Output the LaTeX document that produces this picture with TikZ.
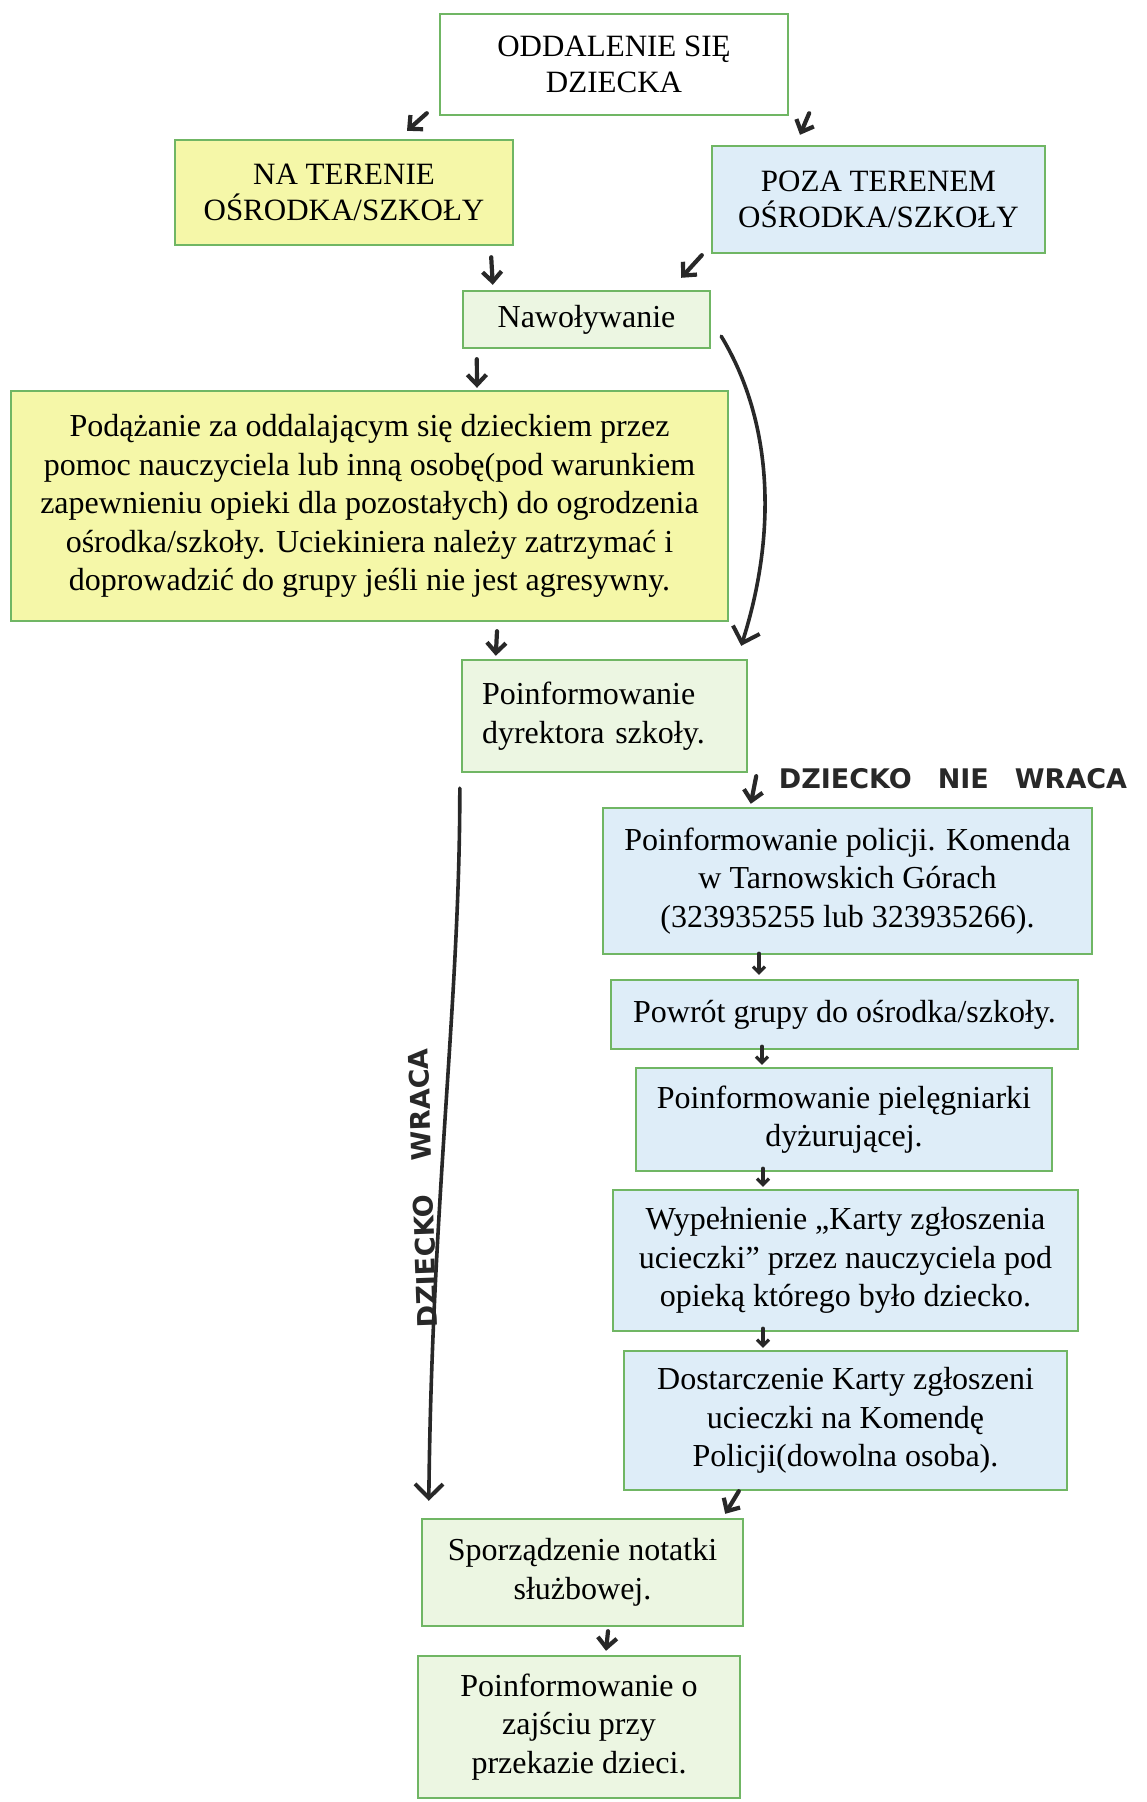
\documentclass[tikz,border=0pt]{standalone}
\usepackage{fontspec}
\setmainfont{Liberation Serif}
\newfontfamily\handfont{DejaVu Sans}
\usetikzlibrary{arrows.meta,calc}
\definecolor{bordergreen}{RGB}{112,182,100}
\definecolor{yfill}{RGB}{245,247,168}
\definecolor{bfill}{RGB}{222,237,248}
\definecolor{gfill}{RGB}{236,246,226}
\definecolor{ink}{RGB}{40,40,40}
\begin{document}
\begin{tikzpicture}[x=1pt,y=-1pt,
 box/.style={draw=bordergreen,line width=2.4pt,inner sep=0pt,align=center,font=\fontsize{32}{38.5}\selectfont},
 capsbox/.style={box,font=\fontsize{31}{36}\selectfont},
 hand/.style={draw=ink,line width=4.2pt,line cap=round,line join=round,-{Straight Barb[length=10pt,width=19pt]}},
 thinhand/.style={draw=ink,line width=3.2pt,line cap=round,line join=round,-{Straight Barb[length=6pt,width=12pt]}},
 longline/.style={draw=ink,line width=3.6pt,line cap=round,line join=round,-{Straight Barb[length=14pt,width=28pt,line width=4pt]}},
 note/.style={font=\handfont\bfseries\fontsize{27}{27}\selectfont,text=ink,inner sep=0pt}]
\useasboundingbox[fill=white] (0,0) rectangle (1146,1802);

\node[capsbox,fill=white,minimum width=348pt,minimum height=101pt] (top) at (614,64.5) {ODDALENIE SIĘ\\DZIECKA};
\node[capsbox,fill=yfill,minimum width=338pt,minimum height=105pt] (ter) at (344,192.5) {NA TERENIE\\OŚRODKA/SZKOŁY};
\node[capsbox,fill=bfill,minimum width=333pt,minimum height=107pt] (poza) at (878.5,199.5) {POZA TERENEM\\OŚRODKA/SZKOŁY};
\node[box,fill=gfill,minimum width=247pt,minimum height=57pt] (naw) at (586.5,319.5) {Nawoływanie};
\node[box,fill=yfill,minimum width=717pt,minimum height=230pt] (big) at (369.5,506) {Podążanie za oddalającym się dzieckiem przez\\pomoc nauczyciela lub inną osobę(pod warunkiem\\zapewnieniu opieki dla pozostałych) do ogrodzenia\\ośrodka/szkoły. Uciekiniera należy zatrzymać i\\doprowadzić do grupy jeśli nie jest agresywny.};
\node[box,fill=gfill,text width=245pt,align=left,inner xsep=20pt,minimum height=112pt] (dyr) at (604.5,716) {Poinformowanie\\dyrektora szkoły.};
\node[box,fill=bfill,minimum width=489pt,minimum height=146pt] (pol) at (847.5,881) {Poinformowanie policji. Komenda\\w Tarnowskich Górach\\(323935255 lub 323935266).};
\node[box,fill=bfill,minimum width=467pt,minimum height=69pt] (pow) at (844.5,1014.5) {Powrót grupy do ośrodka/szkoły.};
\node[box,fill=bfill,minimum width=416pt,minimum height=103pt] (piel) at (844,1119.5) {Poinformowanie pielęgniarki\\dyżurującej.};
\node[box,fill=bfill,minimum width=465pt,minimum height=141pt] (wyp) at (845.5,1260.5) {Wypełnienie „Karty zgłoszenia\\ucieczki” przez nauczyciela pod\\opieką którego było dziecko.};
\node[box,fill=bfill,minimum width=443pt,minimum height=139pt] (dost) at (845.5,1420.5) {Dostarczenie Karty zgłoszeni\\ucieczki na Komendę\\Policji(dowolna osoba).};
\node[box,fill=gfill,minimum width=321pt,minimum height=107pt] (spor) at (582.5,1572.5) {Sporządzenie notatki\\służbowej.};
\node[box,fill=gfill,minimum width=322pt,minimum height=142pt] (zaj) at (579,1727) {Poinformowanie o\\zajściu przy\\przekazie dzieci.};

% short hand-drawn arrows
\draw[hand] ($(top.south west)+(-12,-3)$) -- ($(ter.north)+(63,-8)$);
\draw[hand] ($(top.south east)+(20,-3)$) -- ($(poza.north)+(-78.5,-10)$);
\draw[hand] ($(ter.south east)+(-23,11)$) -- ($(naw.north west)+(31,-5)$);
\draw[hand] ($(poza.south west)+(-9,1)$) -- ($(naw.north east)+(-30,-12)$);
\draw[hand] ($(naw.south west)+(15,10)$) -- ($(big.north)+(107.5,-2)$);
\draw[longline] ($(naw.south east)+(10,-13)$) .. controls (772,420) and (778,530) .. ($(dyr.north east)+(-7,-13)$);
\draw[hand] ($(big.south)+(127.5,9)$) -- ($(dyr.north west)+(35,-3)$);
\draw[hand] ($(dyr.south east)+(8,3)$) -- ($(pol.north west)+(149,-3)$);
\draw[thinhand] ($(pol.south)+(-88.5,-2)$) -- ($(pow.north)+(-85.5,-4)$);
\draw[thinhand] ($(pow.south)+(-82.5,-4)$) -- ($(piel.north)+(-82,-2)$);
\draw[thinhand] ($(piel.south)+(-81,-4)$) -- ($(wyp.north)+(-82.5,-2)$);
\draw[thinhand] ($(wyp.south)+(-82.5,-4)$) -- ($(dost.north)+(-82.5,-2)$);
\draw[hand] ($(dost.south west)+(116,0)$) -- ($(spor.north east)+(-19,-4)$);
\draw[hand] ($(spor.south)+(25.5,4)$) -- ($(zaj.north)+(27,-4)$);
\draw[longline] ($(dyr.south west)+(-1,15)$) .. controls (460,1000) and (432,1200) .. ($(spor.north west)+(8,-17)$);

% handwritten labels
\node[note] (nie) at (953,779) {DZIECKO\hspace{26pt}NIE\hspace{26pt}WRACA};
\node[note,rotate=92] (wraca) at (423,1188) {DZIECKO\hspace{34pt}WRACA};
\end{tikzpicture}
\end{document}
